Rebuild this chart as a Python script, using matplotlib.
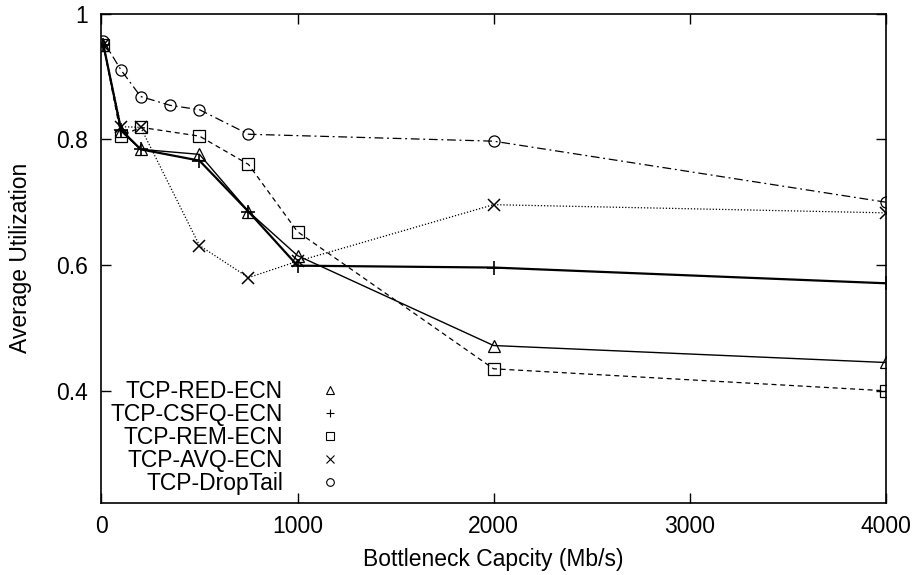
import matplotlib
matplotlib.use('Agg')
import matplotlib.pyplot as plt
from matplotlib.lines import Line2D
from matplotlib.ticker import FormatStrFormatter

plt.rcParams['font.family'] = ['Liberation Sans', 'DejaVu Sans']
plt.rcParams['font.size'] = 16.5

## bottleneck capacities (Mb/s)
x_ecn = [10, 100, 200, 500, 750, 1000, 2000, 4000]
x_droptail = [10, 100, 200, 350, 500, 750, 2000, 4000]

## average utilization per scheme
red_ecn  = [0.950, 0.813, 0.784, 0.776, 0.685, 0.615, 0.472, 0.445]
csfq_ecn = [0.950, 0.815, 0.784, 0.766, 0.685, 0.599, 0.596, 0.571]
rem_ecn  = [0.950, 0.805, 0.819, 0.805, 0.760, 0.653, 0.435, 0.400]
avq_ecn  = [0.950, 0.820, 0.819, 0.631, 0.580, 0.606, 0.696, 0.683]
droptail = [0.956, 0.910, 0.868, 0.854, 0.847, 0.808, 0.797, 0.700]

labels = ['TCP-RED-ECN', 'TCP-CSFQ-ECN', 'TCP-REM-ECN', 'TCP-AVQ-ECN', 'TCP-DropTail']
markers = ['^', '+', 's', 'x', 'o']

fig = plt.figure(figsize=(9.14, 5.75), dpi=100)
ax = fig.add_axes([0.111, 0.1257, 0.858, 0.8508])

ms = 8
ax.plot(x_droptail, droptail, color='k', lw=0.9, ls=(0, (7, 3, 1.5, 3)),
        marker='o', ms=ms, mfc='none', mec='k', mew=0.9)
ax.plot(x_ecn, rem_ecn, color='k', lw=0.9, ls=(0, (4, 3)),
        marker='s', ms=ms, mfc='none', mec='k', mew=0.9)
ax.plot(x_ecn, avq_ecn, color='k', lw=0.9, ls=(0, (1, 1.5)),
        marker='x', ms=ms, mec='k', mew=1.1)
ax.plot(x_ecn, red_ecn, color='k', lw=1.0, ls='-',
        marker='^', ms=ms, mfc='none', mec='k', mew=0.9)
ax.plot(x_ecn, csfq_ecn, color='k', lw=1.6, ls='-',
        marker='+', ms=ms + 2, mec='k', mew=1.2)

ax.set_xlim(0, 4000)
ax.set_ylim(0.222, 1.0)
ax.set_xticks([0, 1000, 2000, 3000, 4000])
ax.set_yticks([0.4, 0.6, 0.8, 1.0])
ax.yaxis.set_major_formatter(FormatStrFormatter('%g'))
ax.tick_params(direction='in', length=7, width=1, top=True, right=True)
ax.tick_params(axis='x', pad=9)
ax.tick_params(axis='y', pad=10)
for s in ax.spines.values():
    s.set_linewidth(1.2)

ax.set_xlabel('Bottleneck Capcity (Mb/s)', labelpad=7)
ax.set_ylabel('Average Utilization', labelpad=17)

## legend: right aligned labels, point samples only
handles = [Line2D([], [], ls='none', marker=m, color='k', mfc='none',
                  ms=5.5, mew=0.8) for m in markers]
ax.legend(handles, labels, loc='lower right', bbox_to_anchor=(0.341, -0.018),
          frameon=False, markerfirst=False, borderpad=0.2,
          handlelength=2.0, handletextpad=1.05, labelspacing=0.0)

fig.savefig('out.png', dpi=100)
